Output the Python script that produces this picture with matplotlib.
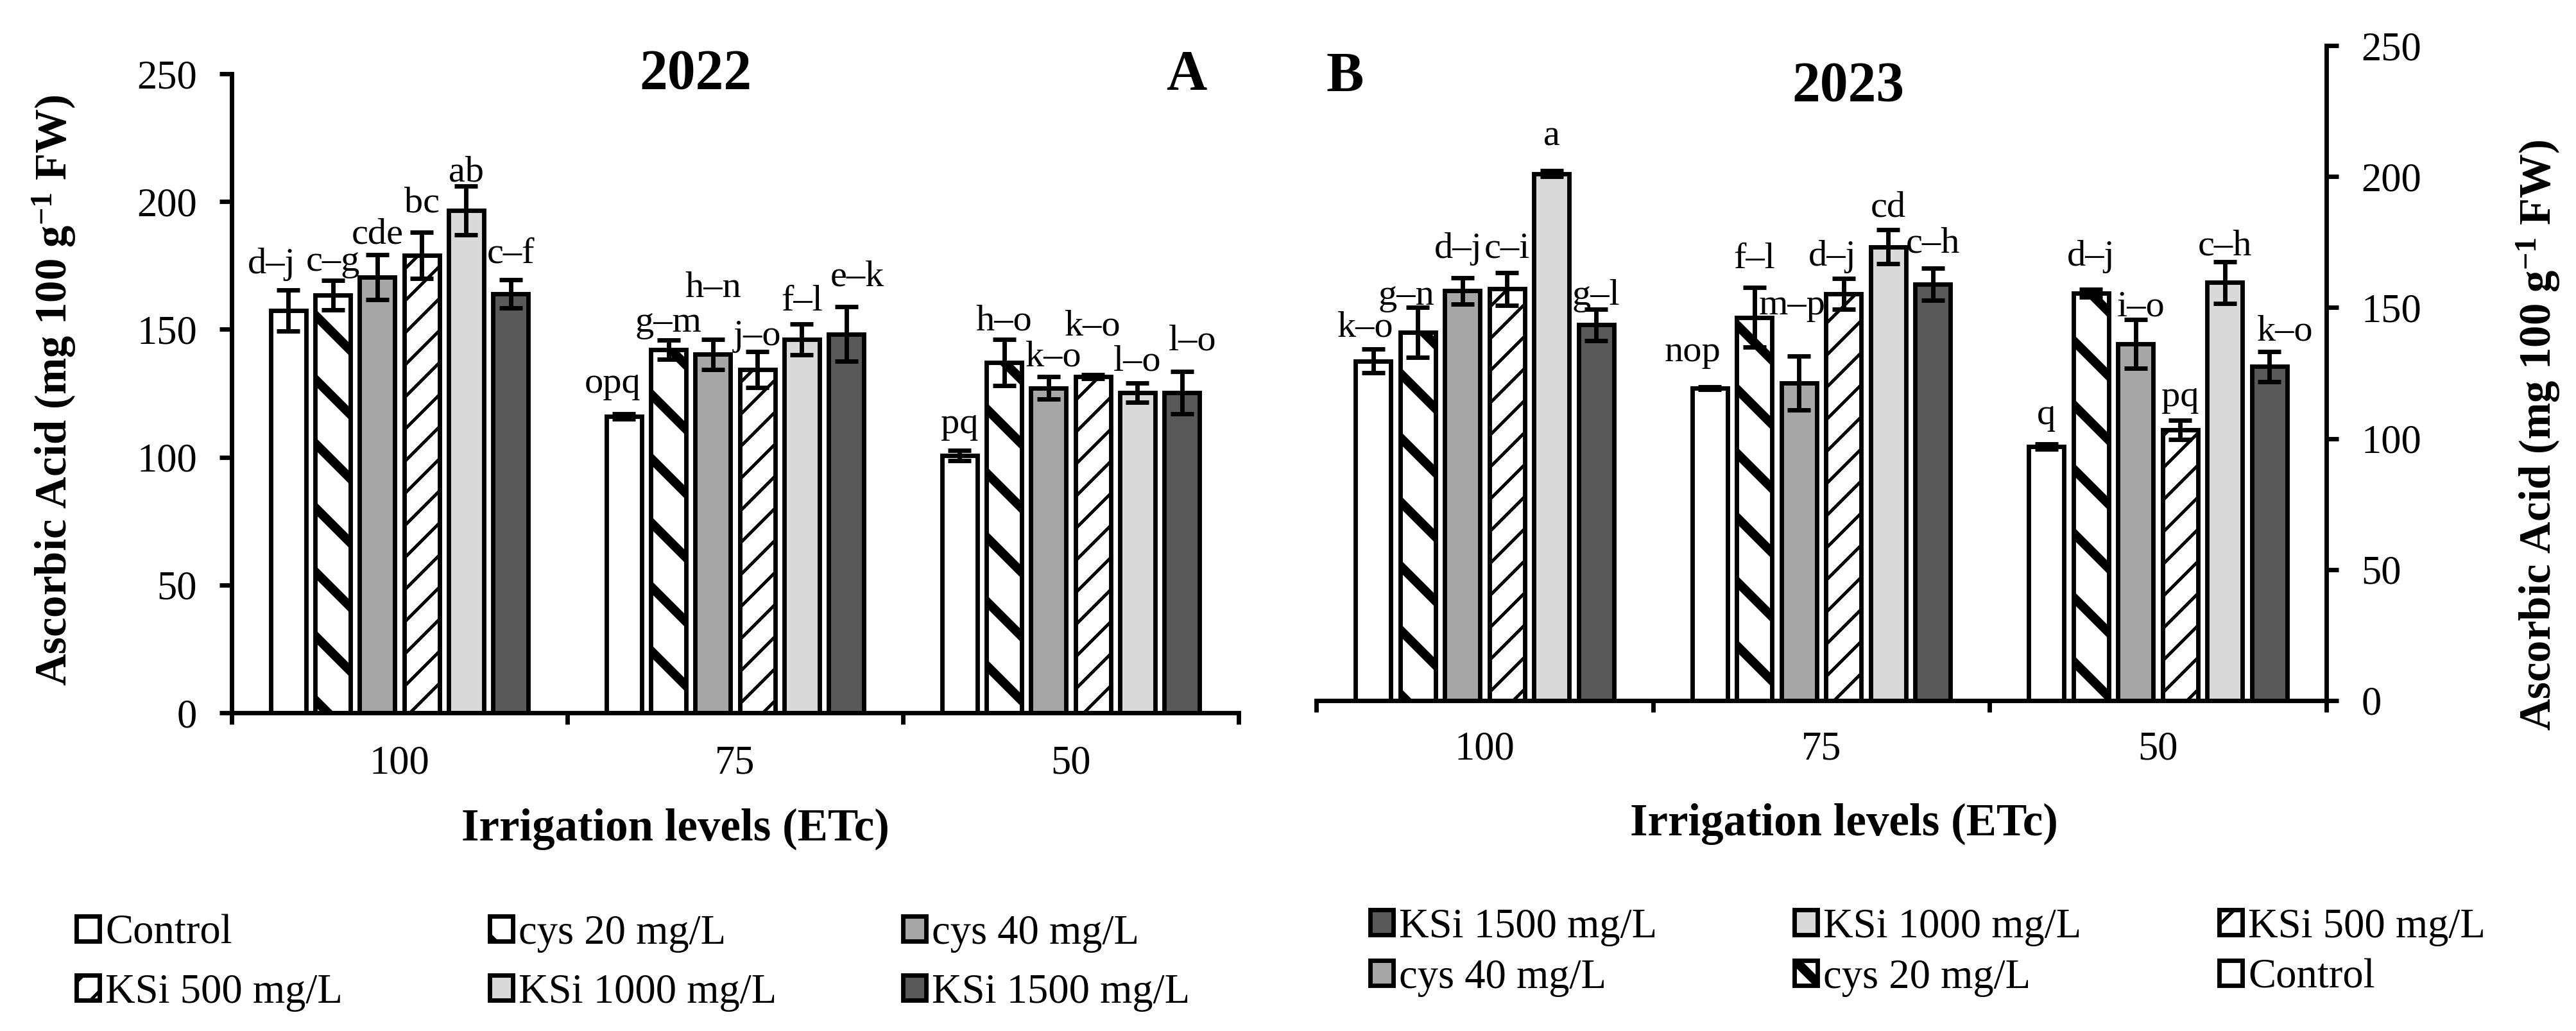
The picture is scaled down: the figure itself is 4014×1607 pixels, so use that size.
import matplotlib
matplotlib.use('Agg')
import matplotlib.pyplot as plt
import numpy as np

plt.rcParams['font.family'] = ['Liberation Serif', 'DejaVu Serif']
plt.rcParams['mathtext.fontset'] = 'custom'
plt.rcParams['mathtext.rm'] = 'Liberation Serif'
plt.rcParams['mathtext.bf'] = 'Liberation Serif:bold'
plt.rcParams['mathtext.it'] = 'Liberation Serif:italic'

# ---------------- data ----------------
categories = ['100', '75', '50']
treatments = ['Control', 'cys 20 mg/L', 'cys 40 mg/L',
              'KSi 500 mg/L', 'KSi 1000 mg/L', 'KSi 1500 mg/L']

# 2022 (panel A) values per treatment for irrigation levels 100, 75, 50
control_2022 = [157.3, 116.0, 100.6]
cys20_2022 = [163.4, 142.0, 137.1]
cys40_2022 = [170.5, 140.2, 127.1]
ksi500_2022 = [179.0, 134.2, 131.5]
ksi1000_2022 = [196.6, 146.1, 125.2]
ksi1500_2022 = [164.0, 148.2, 125.2]

control_2022_err = [8.0, 1.0, 2.0]
cys20_2022_err = [5.8, 3.8, 9.0]
cys40_2022_err = [8.8, 5.8, 4.4]
ksi500_2022_err = [9.0, 7.0, 0.7]
ksi1000_2022_err = [9.5, 6.0, 3.8]
ksi1500_2022_err = [5.5, 10.7, 8.3]

control_2022_let = ['d–j', 'opq', 'pq']
cys20_2022_let = ['c–g', 'g–m', 'h–o']
cys40_2022_let = ['cde', 'h–n', 'k–o']
ksi500_2022_let = ['bc', 'j–o', 'k–o']
ksi1000_2022_let = ['ab', 'f–l', 'l–o']
ksi1500_2022_let = ['c–f', 'e–k', 'l–o']

# 2023 (panel B)
control_2023 = [129.6, 119.3, 97.0]
cys20_2023 = [140.6, 146.3, 155.4]
cys40_2023 = [156.4, 121.2, 136.1]
ksi500_2023 = [157.1, 155.2, 103.4]
ksi1000_2023 = [201.1, 173.2, 159.6]
ksi1500_2023 = [143.4, 159.0, 127.5]

control_2023_err = [4.5, 0.5, 1.0]
cys20_2023_err = [9.5, 11.5, 1.5]
cys40_2023_err = [5.0, 10.2, 9.3]
ksi500_2023_err = [6.2, 5.9, 3.7]
ksi1000_2023_err = [1.1, 6.5, 8.0]
ksi1500_2023_err = [6.0, 6.1, 5.8]

control_2023_let = ['k–o', 'nop', 'q']
cys20_2023_let = ['g–n', 'f–l', 'd–j']
cys40_2023_let = ['d–j', 'm–p', 'i–o']
ksi500_2023_let = ['c–i', 'd–j', 'pq']
ksi1000_2023_let = ['a', 'cd', 'c–h']
ksi1500_2023_let = ['g–l', 'c–h', 'k–o']

# ---------------- layout / style ----------------
W, H, DPI = 4014, 1607, 300
fills = ['white', 'white', '#A6A6A6', 'white', '#D9D9D9', '#595959']
hatches = [None, '\\', None, '//', None, None]
hatch_lw = [1.0, 3.4, 1.0, 1.2, 1.0, 1.0]
bar_w = 0.105
pitch = 0.1325
LW = 1.65
LETTER_FS = 14

# label offsets above error-bar tops (data units) and small x nudges
gap_2022 = [[6.7, 8.2, 6.8], [3.8, 3.2, 3.7], [4.4, 16.6, 4.2],
            [8.0, 2.6, 15.6], [1.9, 5.2, 4.8], [6.5, 8.1, 8.5]]
dx_2022 = [[-0.05, -0.034, 0], [0, 0, 0], [0, 0, 0.015],
           [0, 0, 0], [0, 0, 0], [0, 0.032, 0.032]]
gap_2023 = [[4.9, 9.8, 7.6], [0.9, 7.2, 9.1], [7.6, 16.0, 1.5],
            [5.7, 4.9, 5.3], [9.8, 5.1, 2.4], [1.6, 5.9, 4.3]]
dx_2023 = [[-0.022, -0.05, 0], [-0.034, 0, 0], [-0.012, -0.02, 0.015],
           [0, -0.034, 0], [0, 0, 0], [0, 0, 0.047]]

fig = plt.figure(figsize=(W / DPI, H / DPI), dpi=DPI)


def px_axes(l, r, t, b):
    return fig.add_axes([l / W, 1 - b / H, (r - l) / W, (b - t) / H])


ax1 = px_axes(361, 1930, 115, 1111)
ax2 = px_axes(2051, 3625, 71, 1092)


def draw_panel(ax, series, errs, letters, gaps, dxs):
    x = np.arange(len(categories))
    n = len(series)
    conts = []
    for i in range(n):
        vals = np.asarray(series[i], float)
        err = np.asarray(errs[i], float)
        pos = x + (i - (n - 1) / 2) * pitch
        with plt.rc_context({'hatch.linewidth': hatch_lw[i]}):
            bc = ax.bar(pos, vals, width=bar_w, color=fills[i],
                        edgecolor='black', linewidth=LW, hatch=hatches[i],
                        zorder=2, label=treatments[i])
        for p in bc:
            if hasattr(p, 'set_hatch_linewidth'):
                p.set_hatch_linewidth(hatch_lw[i])
        ax.errorbar(pos, vals, yerr=err, fmt='none', ecolor='black',
                    elinewidth=LW, capsize=4.4, capthick=LW, zorder=3)
        for j in range(len(x)):
            ax.text(pos[j] + dxs[i][j], vals[j] + err[j] + gaps[i][j],
                    letters[i][j], ha='center', va='baseline', fontsize=LETTER_FS)
        conts.append(bc)
    return conts


s22 = [control_2022, cys20_2022, cys40_2022, ksi500_2022, ksi1000_2022, ksi1500_2022]
e22 = [control_2022_err, cys20_2022_err, cys40_2022_err, ksi500_2022_err,
       ksi1000_2022_err, ksi1500_2022_err]
l22 = [control_2022_let, cys20_2022_let, cys40_2022_let, ksi500_2022_let,
       ksi1000_2022_let, ksi1500_2022_let]
s23 = [control_2023, cys20_2023, cys40_2023, ksi500_2023, ksi1000_2023, ksi1500_2023]
e23 = [control_2023_err, cys20_2023_err, cys40_2023_err, ksi500_2023_err,
       ksi1000_2023_err, ksi1500_2023_err]
l23 = [control_2023_let, cys20_2023_let, cys40_2023_let, ksi500_2023_let,
       ksi1000_2023_let, ksi1500_2023_let]

c1 = draw_panel(ax1, s22, e22, l22, gap_2022, dx_2022)
c2 = draw_panel(ax2, s23, e23, l23, gap_2023, dx_2023)

for ax, catpad in ((ax1, 12), (ax2, 11.5)):
    ax.set_xlim(-0.5, 2.5)
    ax.set_ylim(0, 250)
    ax.set_yticks(range(0, 251, 50))
    ax.set_xticks(np.arange(len(categories)))
    ax.set_xticklabels(categories)
    ax.set_xticks([-0.5, 0.5, 1.5, 2.5], minor=True)
    ax.tick_params(axis='x', which='major', length=0, pad=catpad, labelsize=15)
    ax.tick_params(axis='x', which='minor', length=4.3, width=LW, direction='out')
    ax.tick_params(axis='y', length=4.5, width=LW, direction='out',
                   labelsize=15, pad=8.5)
    ax.spines['top'].set_visible(False)
    ax.spines['bottom'].set_linewidth(LW)
    ax.set_facecolor('none')

ax1.spines['right'].set_visible(False)
ax1.spines['left'].set_linewidth(LW)
ax2.spines['left'].set_visible(False)
ax2.spines['right'].set_linewidth(LW)
ax2.yaxis.tick_right()

ylab = r'Ascorbic Acid (mg 100 g$^{\mathbf{-1}}$ FW)'


def ftext(x, y, s, **kw):
    fig.text(x / W, 1 - y / H, s, **kw)


ftext(84, 608, ylab, rotation=90, ha='center', va='center', fontsize=16.5, fontweight='bold')
ftext(3955, 678, ylab, rotation=90, ha='center', va='center', fontsize=16.5, fontweight='bold')

ftext(1084, 138, '2022', ha='center', va='baseline', fontsize=21, fontweight='bold')
ftext(1849, 139, 'A', ha='center', va='baseline', fontsize=21, fontweight='bold')
ftext(2096, 142, 'B', ha='center', va='baseline', fontsize=21, fontweight='bold')
ftext(2880, 157, '2023', ha='center', va='baseline', fontsize=21, fontweight='bold')

ftext(1052, 1310, 'Irrigation levels (ETc)', ha='center', va='baseline',
      fontsize=17, fontweight='bold')
ftext(2873, 1302, 'Irrigation levels (ETc)', ha='center', va='baseline',
      fontsize=17, fontweight='bold')

# legends: one entry each, placed on a 3x2 grid
left_cols = [119, 763, 1407]
left_rows = [1455, 1547]
left_order = [[0, 1, 2], [3, 4, 5]]
right_cols = [2135, 2796, 3458]
right_rows = [1445, 1524]
right_order = [[5, 4, 3], [2, 1, 0]]


def add_legend(conts, cols, rows, order, fs):
    for r, row in enumerate(order):
        for c, idx in enumerate(row):
            leg = fig.legend([conts[idx]], [treatments[idx]], loc='center left',
                             bbox_to_anchor=(cols[c] / W, 1 - rows[r] / H),
                             frameon=False, borderpad=0, borderaxespad=0,
                             handlelength=0.55, handleheight=0.55,
                             handletextpad=0.15, fontsize=fs)
            for hp in leg.get_patches():
                if hasattr(hp, 'set_hatch_linewidth'):
                    hp.set_hatch_linewidth(hatch_lw[idx])


add_legend(c1, left_cols, left_rows, left_order, 15.5)
add_legend(c2, right_cols, right_rows, right_order, 15.5)

fig.savefig('out.png', dpi=DPI)
